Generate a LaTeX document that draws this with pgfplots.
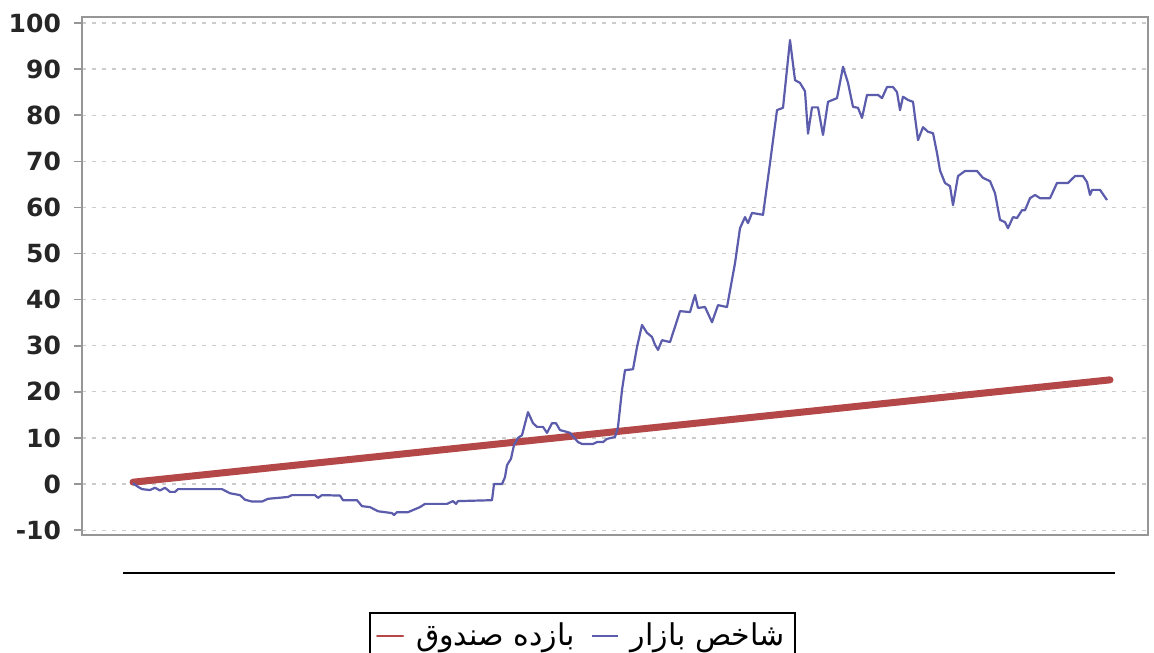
\documentclass[border=0pt]{standalone}
\usepackage{fontspec}
\setmainfont{DejaVu Sans}
\newfontfamily\arabicfont[Script=Arabic]{DejaVu Sans}
\usepackage{pgfplots}
\pgfplotsset{compat=1.18}
\TeXXeTstate=1

\definecolor{marketblue}{RGB}{92,92,172}
\definecolor{fundred}{RGB}{180,72,72}
\definecolor{framegray}{RGB}{150,150,150}

\pgfplotstableread{
x y
133 0.2
138 -0.6
142 -1.1
150 -1.3
155 -0.8
160 -1.4
165 -0.8
170 -1.7
175 -1.7
178 -1.1
222 -1.1
230 -2.0
240 -2.4
245 -3.4
252 -3.8
262 -3.8
268 -3.2
288 -2.8
292 -2.4
315 -2.4
318 -3.0
322 -2.4
340 -2.5
343 -3.5
357 -3.5
362 -4.8
370 -5.0
378 -5.9
392 -6.3
394 -6.7
397 -6.1
408 -6.1
420 -5.0
425 -4.3
447 -4.3
453 -3.7
456 -4.3
458 -3.7
492 -3.5
494 0
502 0
505 1.5
507 4.1
511 5.5
514 8.5
518 10
522 10.6
528 15.6
533 13.2
537 12.4
543 12.4
547 11.1
552 13.2
556 13.2
560 11.7
567 11.3
570 11.1
578 9.1
582 8.7
593 8.7
597 9.1
603 9.1
607 9.8
615 10.2
618 12.4
622 20.4
625 24.7
633 24.9
637 29.7
642 34.5
647 32.8
652 31.9
655 30.2
658 29.1
662 31.2
670 30.8
675 34.1
680 37.5
690 37.3
695 41.0
698 38.2
705 38.4
712 35.1
718 38.8
727 38.4
735 47.9
740 55.5
745 57.9
748 56.6
752 58.8
763 58.4
770 69.6
777 81.1
783 81.6
790 96.3
795 87.6
800 87.0
805 85.2
808 76.0
812 81.7
818 81.7
823 75.7
828 82.9
837 83.7
843 90.5
848 87.0
853 81.8
858 81.6
862 79.4
867 84.4
878 84.4
882 83.7
887 86.1
893 86.1
897 85.0
900 81.1
903 84.0
908 83.3
913 82.9
918 74.6
923 77.4
928 76.4
933 76.1
937 71.8
940 68.0
945 65.3
950 64.6
953 60.5
958 66.8
965 67.9
977 67.9
983 66.4
990 65.7
995 63.1
1000 57.3
1005 56.8
1008 55.5
1013 57.9
1017 57.7
1022 59.4
1025 59.4
1030 62.0
1035 62.7
1040 62.0
1050 62.0
1057 65.3
1068 65.3
1075 66.8
1083 66.8
1087 65.5
1090 62.7
1092 63.8
1100 63.8
1107 61.6
}\markettable

\pgfplotstableread{
x y
133 0.4
1110 22.6
}\fundtable

\begin{document}
\begin{tikzpicture}
\fill[white] (-41pt,-58.5pt) rectangle (536pt,267.5pt);
\useasboundingbox (-41pt,-58.5pt) rectangle (536pt,267.5pt);
\clip (-41pt,-58.5pt) rectangle (536pt,267.5pt);
\begin{axis}[
    scale only axis,
    width=533pt,
    height=259pt,
    xmin=82, xmax=1148,
    ymin=-11.05, ymax=101.3,
    xtick=\empty,
    ytick={-10,0,10,20,30,40,50,60,70,80,90,100},
    ytick pos=left,
    ytick align=outside,
    major tick length=4pt,
    tick style={draw=framegray, line width=0.8pt},
    axis line style={draw=framegray, line width=0.9pt},
    ymajorgrids=true,
    major grid style={draw=gray!40, line width=0.6pt, dash pattern=on 2pt off 3pt},
    /pgf/number format/assume math mode=true,
    yticklabel style={font=\bfseries\fontsize{12.5}{14}\selectfont, text=black!85, xshift=-3pt},
    legend columns=2,
    legend style={
        at={(axis description cs:0.4695,-0.1486)}, anchor=north,
        draw=black, line width=1pt,
        font=\fontsize{15}{18}\selectfont,
        inner xsep=3pt, inner ysep=3pt,
        /tikz/every odd column/.append style={column sep=4pt},
        /tikz/every even column/.append style={column sep=6pt},
    },
    legend image code/.code={\draw[#1, line width=1pt] (0pt,0pt) -- (13pt,0pt);},
]
\addplot[fundred, line width=3.5pt, line cap=round] table[x=x, y=y] {\fundtable};
\addlegendentry{\arabicfont\beginR بازده صندوق\endR}
\addplot[marketblue, line width=1.1pt, line join=round] table[x=x, y=y] {\markettable};
\addlegendentry{\arabicfont\beginR شاخص بازار\endR}
\end{axis}
\draw[black, line width=1pt] (20.5pt,-19pt) -- (516.5pt,-19pt);
\end{tikzpicture}
\end{document}
